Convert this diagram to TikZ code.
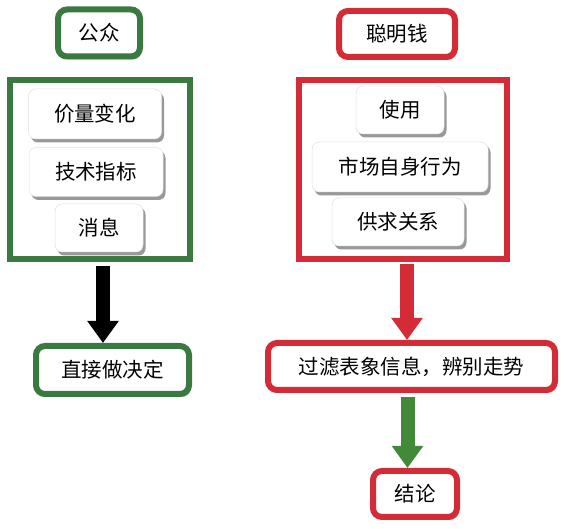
\documentclass[tikz,border=0pt]{standalone}
\usepackage{fontspec}
\newfontfamily\cjk{Noto Sans CJK SC}
\usetikzlibrary{shadows,arrows.meta,calc}
\definecolor{gr}{RGB}{58,122,64}
\definecolor{rd}{RGB}{212,44,54}
\definecolor{ga}{RGB}{66,138,58}
\tikzset{
  base/.style={font={\cjk\fontsize{20.5}{24}\selectfont}, inner sep=0pt, align=center},
  gbox/.style={base, draw=gr, line width=6pt, rounded corners=9pt, fill=white,
    drop shadow={shadow xshift=2pt, shadow yshift=-3pt, opacity=0.6}},
  rbox/.style={base, draw=rd, line width=6pt, rounded corners=9pt, fill=white,
    drop shadow={shadow xshift=2pt, shadow yshift=-3pt, opacity=0.6}},
  gframe/.style={draw=gr, line width=6pt, fill=white,
    drop shadow={shadow xshift=2pt, shadow yshift=-3pt, opacity=0.6}},
  rframe/.style={draw=rd, line width=6pt, fill=white,
    drop shadow={shadow xshift=2pt, shadow yshift=-3pt, opacity=0.6}},
  item/.style={base, fill=white, rounded corners=7pt, draw=black!12, line width=0.5pt,
    drop shadow={shadow xshift=2.5pt, shadow yshift=-3.5pt, opacity=0.8}},
  blk/.style={line width=14pt, -{Triangle[width=30pt,length=22pt]}},
}
\begin{document}
\begin{tikzpicture}[x=1pt,y=-1pt]
\useasboundingbox (0,0) rectangle (566,529);
% left column
\node[gbox, minimum width=82pt, minimum height=47pt] (pub) at (99,33) {公众};
\node[gframe, minimum width=180pt, minimum height=179pt] (lframe) at (100,169.5) {};
\node[item, minimum width=133pt, minimum height=50pt] (i1) at (95,114) {价量变化};
\node[item, minimum width=134pt, minimum height=49pt] (i2) at (96,172) {技术指标};
\node[item, minimum width=88pt, minimum height=48pt] (i3) at (99,228) {消息};
\node[gbox, minimum width=153pt, minimum height=48pt] (dec) at (112.5,370) {直接做决定};
% right column
\node[rbox, minimum width=116pt, minimum height=46pt] (smart) at (397,34) {聪明钱};
\node[rframe, minimum width=208pt, minimum height=179pt] (rfr) at (403,169.5) {};
\node[item, minimum width=88pt, minimum height=48pt] (j1) at (400,110) {使用};
\node[item, minimum width=176pt, minimum height=50pt] (j2) at (400,167) {市场自身行为};
\node[item, minimum width=132pt, minimum height=48pt] (j3) at (398,222) {供求关系};
\node[rbox, minimum width=287pt, minimum height=47pt] (filt) at (411.5,366.5) {过滤表象信息，辨别走势};
\node[rbox, minimum width=84pt, minimum height=46pt] (concl) at (415,494) {结论};
% arrows
\draw[blk, black] ([xshift=3pt,yshift=-4pt]lframe.south) -- ([xshift=3pt]lframe.south |- dec.north);
\draw[blk, rd] ([xshift=4pt,yshift=-2pt]rfr.south) -- ([xshift=4pt]rfr.south |- filt.north);
\draw[blk, ga] ([xshift=-4pt,yshift=-4pt]filt.south) -- ([xshift=-4pt]filt.south |- concl.north);
\end{tikzpicture}
\end{document}
